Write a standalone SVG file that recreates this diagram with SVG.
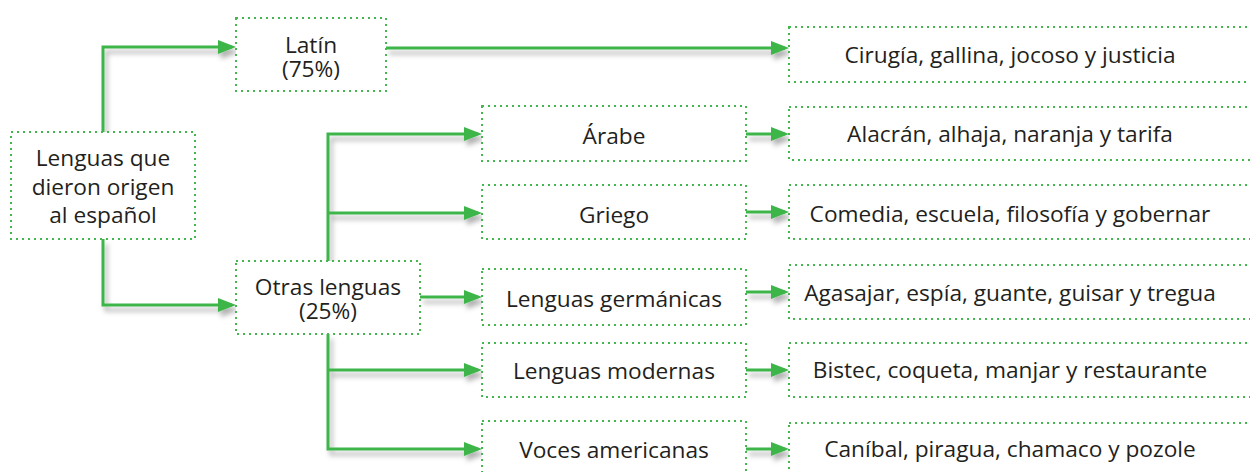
<svg xmlns="http://www.w3.org/2000/svg" width="1250" height="472" viewBox="0 0 1250 472">
<defs>
<style>
.box{fill:#fff;stroke:#44b84f;stroke-width:2;stroke-dasharray:2 4}
.t{font-family:"Open Sans","Noto Sans","Liberation Sans",sans-serif;font-size:22.7px;fill:#231f20;text-anchor:middle}
.c{fill:none;stroke:#3db54a;stroke-width:3}
</style>
<marker id="ah" markerUnits="userSpaceOnUse" markerWidth="18" markerHeight="14" refX="14" refY="7" orient="auto">
<path d="M0,0 L18,7 L0,14 z" fill="#3db54a"/>
</marker>
<filter id="sh" x="-10%" y="-10%" width="130%" height="140%">
<feDropShadow dx="3" dy="5" stdDeviation="2.5" flood-color="#000" flood-opacity="0.3"/>
</filter>
</defs>
<rect width="1250" height="472" fill="#fff"/>
<g id="connectors" filter="url(#sh)">
<path class="c" d="M103,132 V47 H232" marker-end="url(#ah)"/>
<path class="c" d="M103,239 V305 H232" marker-end="url(#ah)"/>
<path class="c" d="M386,48 H785" marker-end="url(#ah)"/>
<path class="c" d="M328,261 V134 H478" marker-end="url(#ah)"/>
<path class="c" d="M328,213 H478" marker-end="url(#ah)"/>
<path class="c" d="M420,297 H478" marker-end="url(#ah)"/>
<path class="c" d="M328,334 V449 H478" marker-end="url(#ah)"/>
<path class="c" d="M328,370 H478" marker-end="url(#ah)"/>
<path class="c" d="M746,134 H785" marker-end="url(#ah)"/>
<path class="c" d="M746,212 H785" marker-end="url(#ah)"/>
<path class="c" d="M746,292 H785" marker-end="url(#ah)"/>
<path class="c" d="M746,370 H785" marker-end="url(#ah)"/>
<path class="c" d="M746,449 H785" marker-end="url(#ah)"/>
</g>
<g id="root"><rect class="box" x="11" y="132" width="184" height="107"/>
<text class="t" x="103" y="166">Lenguas que</text><text class="t" x="103" y="194.5">dieron origen</text><text class="t" x="103" y="223">al español</text></g>
<g id="latin"><rect class="box" x="236" y="18" width="150" height="73"/>
<text class="t" x="311" y="53">Latín</text><text class="t" x="311" y="77">(75%)</text></g>
<g id="otras"><rect class="box" x="236" y="261" width="184" height="73"/>
<text class="t" x="328" y="294.5">Otras lenguas</text><text class="t" x="328" y="319">(25%)</text></g>
<g id="arabe"><rect class="box" x="482" y="106" width="264" height="55"/><text class="t" x="614" y="144">Árabe</text></g>
<g id="griego"><rect class="box" x="482" y="185" width="264" height="54"/><text class="t" x="614" y="223">Griego</text></g>
<g id="germanicas"><rect class="box" x="482" y="269" width="264" height="56"/><text class="t" x="614" y="307">Lenguas germánicas</text></g>
<g id="modernas"><rect class="box" x="482" y="343" width="264" height="54"/><text class="t" x="614" y="379">Lenguas modernas</text></g>
<g id="americanas"><rect class="box" x="482" y="421" width="264" height="56"/><text class="t" x="614" y="458">Voces americanas</text></g>
<g id="ej-latin"><rect class="box" x="789" y="27" width="474" height="55"/><text class="t" x="1010" y="63">Cirugía, gallina, jocoso y justicia</text></g>
<g id="ej-arabe"><rect class="box" x="789" y="107" width="474" height="53"/><text class="t" x="1010" y="142">Alacrán, alhaja, naranja y tarifa</text></g>
<g id="ej-griego"><rect class="box" x="789" y="185" width="474" height="54"/><text class="t" x="1010" y="222">Comedia, escuela, filosofía y gobernar</text></g>
<g id="ej-germanicas"><rect class="box" x="789" y="265" width="474" height="54"/><text class="t" x="1010" y="301">Agasajar, espía, guante, guisar y tregua</text></g>
<g id="ej-modernas"><rect class="box" x="789" y="343" width="474" height="54"/><text class="t" x="1010" y="378">Bistec, coqueta, manjar y restaurante</text></g>
<g id="ej-americanas"><rect class="box" x="789" y="423" width="474" height="56"/><text class="t" x="1010" y="457">Caníbal, piragua, chamaco y pozole</text></g>
</svg>
